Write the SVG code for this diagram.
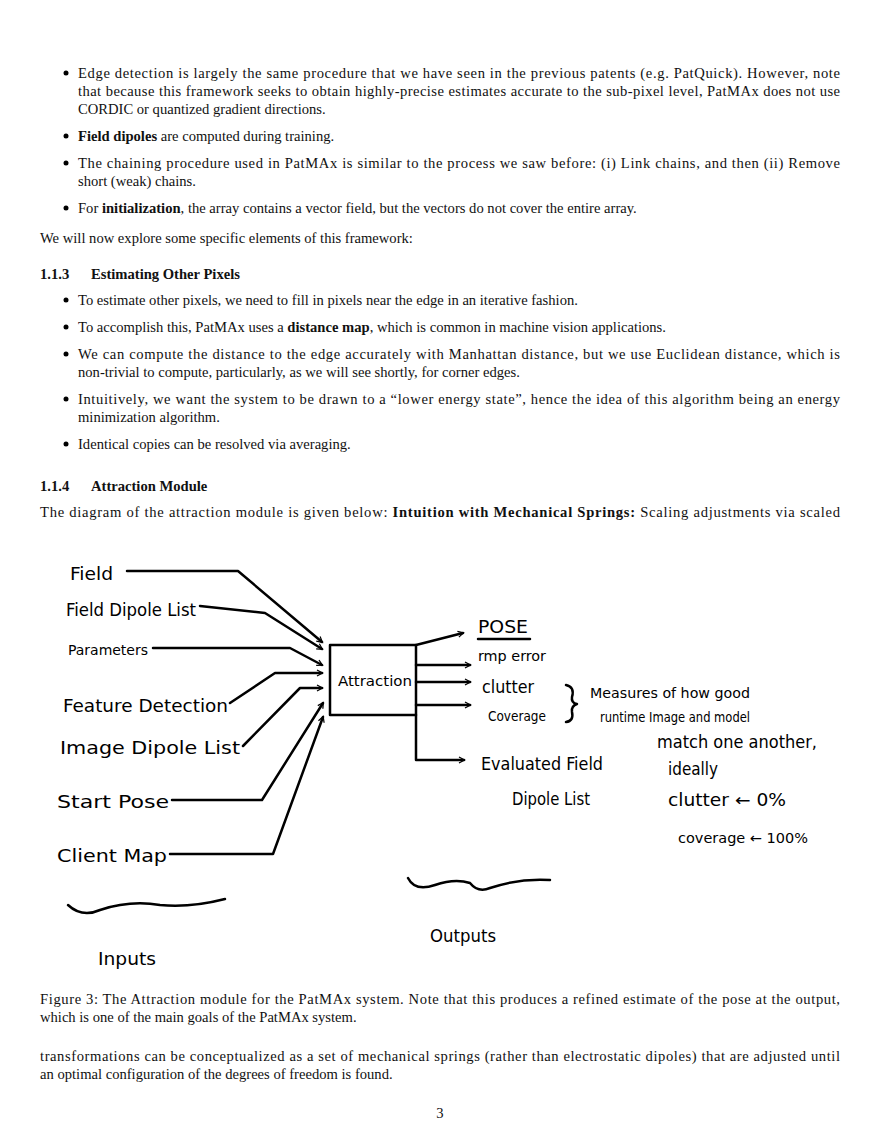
<svg xmlns="http://www.w3.org/2000/svg" width="880" height="1139" viewBox="0 0 880 1139">
<style>
.t{font-family:"Liberation Serif",serif;font-size:14.6px;fill:#111}
.b{font-weight:bold}
.h{font-family:"DejaVu Sans Condensed","DejaVu Sans",sans-serif;font-size:17px;fill:#000}
.hs{font-size:14px}
.ln{fill:none;stroke:#000;stroke-width:2.5;stroke-linecap:round;stroke-linejoin:round}
</style>
<defs><marker id="ah" viewBox="0 0 12 12" refX="10" refY="6" markerWidth="6" markerHeight="6" orient="auto" markerUnits="userSpaceOnUse" style="overflow:visible"><path d="M0,0 L11,6 L0,12" fill="none" stroke="#000" stroke-width="2.5"/></marker></defs>
<rect width="880" height="1139" fill="#fff"/>
<g id="body">
<circle cx="66" cy="73" r="2.5"/><text class="t" x="78" y="78" textLength="762" lengthAdjust="spacing">Edge detection is largely the same procedure that we have seen in the previous patents (e.g. PatQuick). However, note</text>
<text class="t" x="78" y="96" textLength="762" lengthAdjust="spacing">that because this framework seeks to obtain highly-precise estimates accurate to the sub-pixel level, PatMAx does not use</text>
<text class="t" x="78" y="114">CORDIC or quantized gradient directions.</text>
<circle cx="66" cy="136" r="2.5"/><text class="t" x="78" y="141"><tspan class="b">Field dipoles</tspan> are computed during training.</text>
<circle cx="66" cy="163" r="2.5"/><text class="t" x="78" y="168" textLength="762" lengthAdjust="spacing">The chaining procedure used in PatMAx is similar to the process we saw before: (i) Link chains, and then (ii) Remove</text>
<text class="t" x="78" y="186">short (weak) chains.</text>
<circle cx="66" cy="208" r="2.5"/><text class="t" x="78" y="213">For <tspan class="b">initialization</tspan>, the array contains a vector field, but the vectors do not cover the entire array.</text>
<text class="t" x="40" y="243">We will now explore some specific elements of this framework:</text>
<text class="t b" x="40" y="279">1.1.3<tspan x="91">Estimating Other Pixels</tspan></text>
<circle cx="66" cy="300" r="2.5"/><text class="t" x="78" y="305">To estimate other pixels, we need to fill in pixels near the edge in an iterative fashion.</text>
<circle cx="66" cy="327" r="2.5"/><text class="t" x="78" y="332">To accomplish this, PatMAx uses a <tspan class="b">distance map</tspan>, which is common in machine vision applications.</text>
<circle cx="66" cy="354" r="2.5"/><text class="t" x="78" y="359" textLength="762" lengthAdjust="spacing">We can compute the distance to the edge accurately with Manhattan distance, but we use Euclidean distance, which is</text>
<text class="t" x="78" y="377">non-trivial to compute, particularly, as we will see shortly, for corner edges.</text>
<circle cx="66" cy="399" r="2.5"/><text class="t" x="78" y="404" textLength="762" lengthAdjust="spacing">Intuitively, we want the system to be drawn to a “lower energy state”, hence the idea of this algorithm being an energy</text>
<text class="t" x="78" y="422">minimization algorithm.</text>
<circle cx="66" cy="444" r="2.5"/><text class="t" x="78" y="449">Identical copies can be resolved via averaging.</text>
<text class="t b" x="40" y="491">1.1.4<tspan x="91">Attraction Module</tspan></text>
<text class="t" x="40" y="517" textLength="800" lengthAdjust="spacing">The diagram of the attraction module is given below: <tspan class="b">Intuition with Mechanical Springs:</tspan> Scaling adjustments via scaled</text>
<text class="t" x="40" y="1004" textLength="800" lengthAdjust="spacing">Figure 3: The Attraction module for the PatMAx system. Note that this produces a refined estimate of the pose at the output,</text>
<text class="t" x="40" y="1022">which is one of the main goals of the PatMAx system.</text>
<text class="t" x="40" y="1061" textLength="800" lengthAdjust="spacing">transformations can be conceptualized as a set of mechanical springs (rather than electrostatic dipoles) that are adjusted until</text>
<text class="t" x="40" y="1079">an optimal configuration of the degrees of freedom is found.</text>
<text class="t" x="440" y="1118" text-anchor="middle">3</text>
</g>
<g id="attraction"><rect x="330" y="645" width="86" height="70" class="ln"/><text class="h hs" x="338" y="686" textLength="74" lengthAdjust="spacingAndGlyphs">Attraction</text></g>
<g id="inputs">
<text class="h" x="70" y="580" textLength="43" lengthAdjust="spacingAndGlyphs">Field</text>
<text class="h" x="66" y="616" textLength="130" lengthAdjust="spacingAndGlyphs">Field Dipole List</text>
<text class="h hs" x="68" y="655" textLength="80" lengthAdjust="spacingAndGlyphs">Parameters</text>
<text class="h" x="63" y="712" textLength="165" lengthAdjust="spacingAndGlyphs">Feature  Detection</text>
<text class="h" x="60" y="754" textLength="180" lengthAdjust="spacingAndGlyphs">Image  Dipole  List</text>
<text class="h" x="57" y="808" textLength="112" lengthAdjust="spacingAndGlyphs">Start  Pose</text>
<text class="h" x="57" y="862" textLength="110" lengthAdjust="spacingAndGlyphs">Client  Map</text>
<text class="h" x="98" y="965" textLength="58" lengthAdjust="spacingAndGlyphs">Inputs</text>
</g>
<g id="outputs">
<text class="h" x="478" y="633" textLength="50" lengthAdjust="spacingAndGlyphs">POSE</text>
<path class="ln" d="M478,639 H530"/>
<text class="h hs" x="478" y="661" textLength="68" lengthAdjust="spacingAndGlyphs">rmp error</text>
<text class="h" x="482" y="693" textLength="52" lengthAdjust="spacingAndGlyphs">clutter</text>
<text class="h hs" x="488" y="721" textLength="58" lengthAdjust="spacingAndGlyphs">Coverage</text>
<text class="h" x="481" y="770" textLength="122" lengthAdjust="spacingAndGlyphs">Evaluated Field</text>
<text class="h" x="512" y="805" textLength="78" lengthAdjust="spacingAndGlyphs">Dipole List</text>
<text class="h" x="430" y="942" textLength="66" lengthAdjust="spacingAndGlyphs">Outputs</text>
</g>
<g id="notes">
<path class="ln" d="M566,685 Q575,687 572,697 Q571,703 577,704 Q571,706 572,712 Q574,721 566,722"/>
<text class="h hs" x="590" y="698" textLength="160" lengthAdjust="spacingAndGlyphs">Measures of  how  good</text>
<text class="h hs" x="600" y="722" textLength="150" lengthAdjust="spacingAndGlyphs">runtime Image  and  model</text>
<text class="h" x="657" y="748" textLength="160" lengthAdjust="spacingAndGlyphs">match one  another,</text>
<text class="h" x="668" y="775" textLength="50" lengthAdjust="spacingAndGlyphs">ideally</text>
<text class="h" x="668" y="806" textLength="118" lengthAdjust="spacingAndGlyphs">clutter ← 0%</text>
<text class="h hs" x="678" y="843" textLength="130" lengthAdjust="spacingAndGlyphs">coverage ← 100%</text>
</g>
<g id="connectors">
<path class="ln" marker-end="url(#ah)" d="M127,571 H238 L322,642"/>
<path class="ln" marker-end="url(#ah)" d="M200,606 L265,613 L322,649"/>
<path class="ln" marker-end="url(#ah)" d="M153,648 H290 L322,665"/>
<path class="ln" marker-end="url(#ah)" d="M230,703 L275,673 H322"/>
<path class="ln" marker-end="url(#ah)" d="M243,746 L300,688 H322"/>
<path class="ln" marker-end="url(#ah)" d="M172,800 H262 L323,703"/>
<path class="ln" marker-end="url(#ah)" d="M170,854 H273 L323,717"/>
<path class="ln" marker-end="url(#ah)" d="M416,645 L463,633"/>
<path class="ln" marker-end="url(#ah)" d="M416,665 H470"/>
<path class="ln" marker-end="url(#ah)" d="M416,682 H470"/>
<path class="ln" marker-end="url(#ah)" d="M416,705 H470"/>
<path class="ln" marker-end="url(#ah)" d="M416,715 V760 H464"/>
<path class="ln" d="M408,878 Q415,892 435,885 Q455,878 470,883 Q478,893 490,888 Q520,878 550,880" stroke-width="4"/>
<path class="ln" d="M68,905 Q82,918 100,910 Q130,900 160,905 Q190,908 225,899" stroke-width="4"/>
</g>
</svg>
